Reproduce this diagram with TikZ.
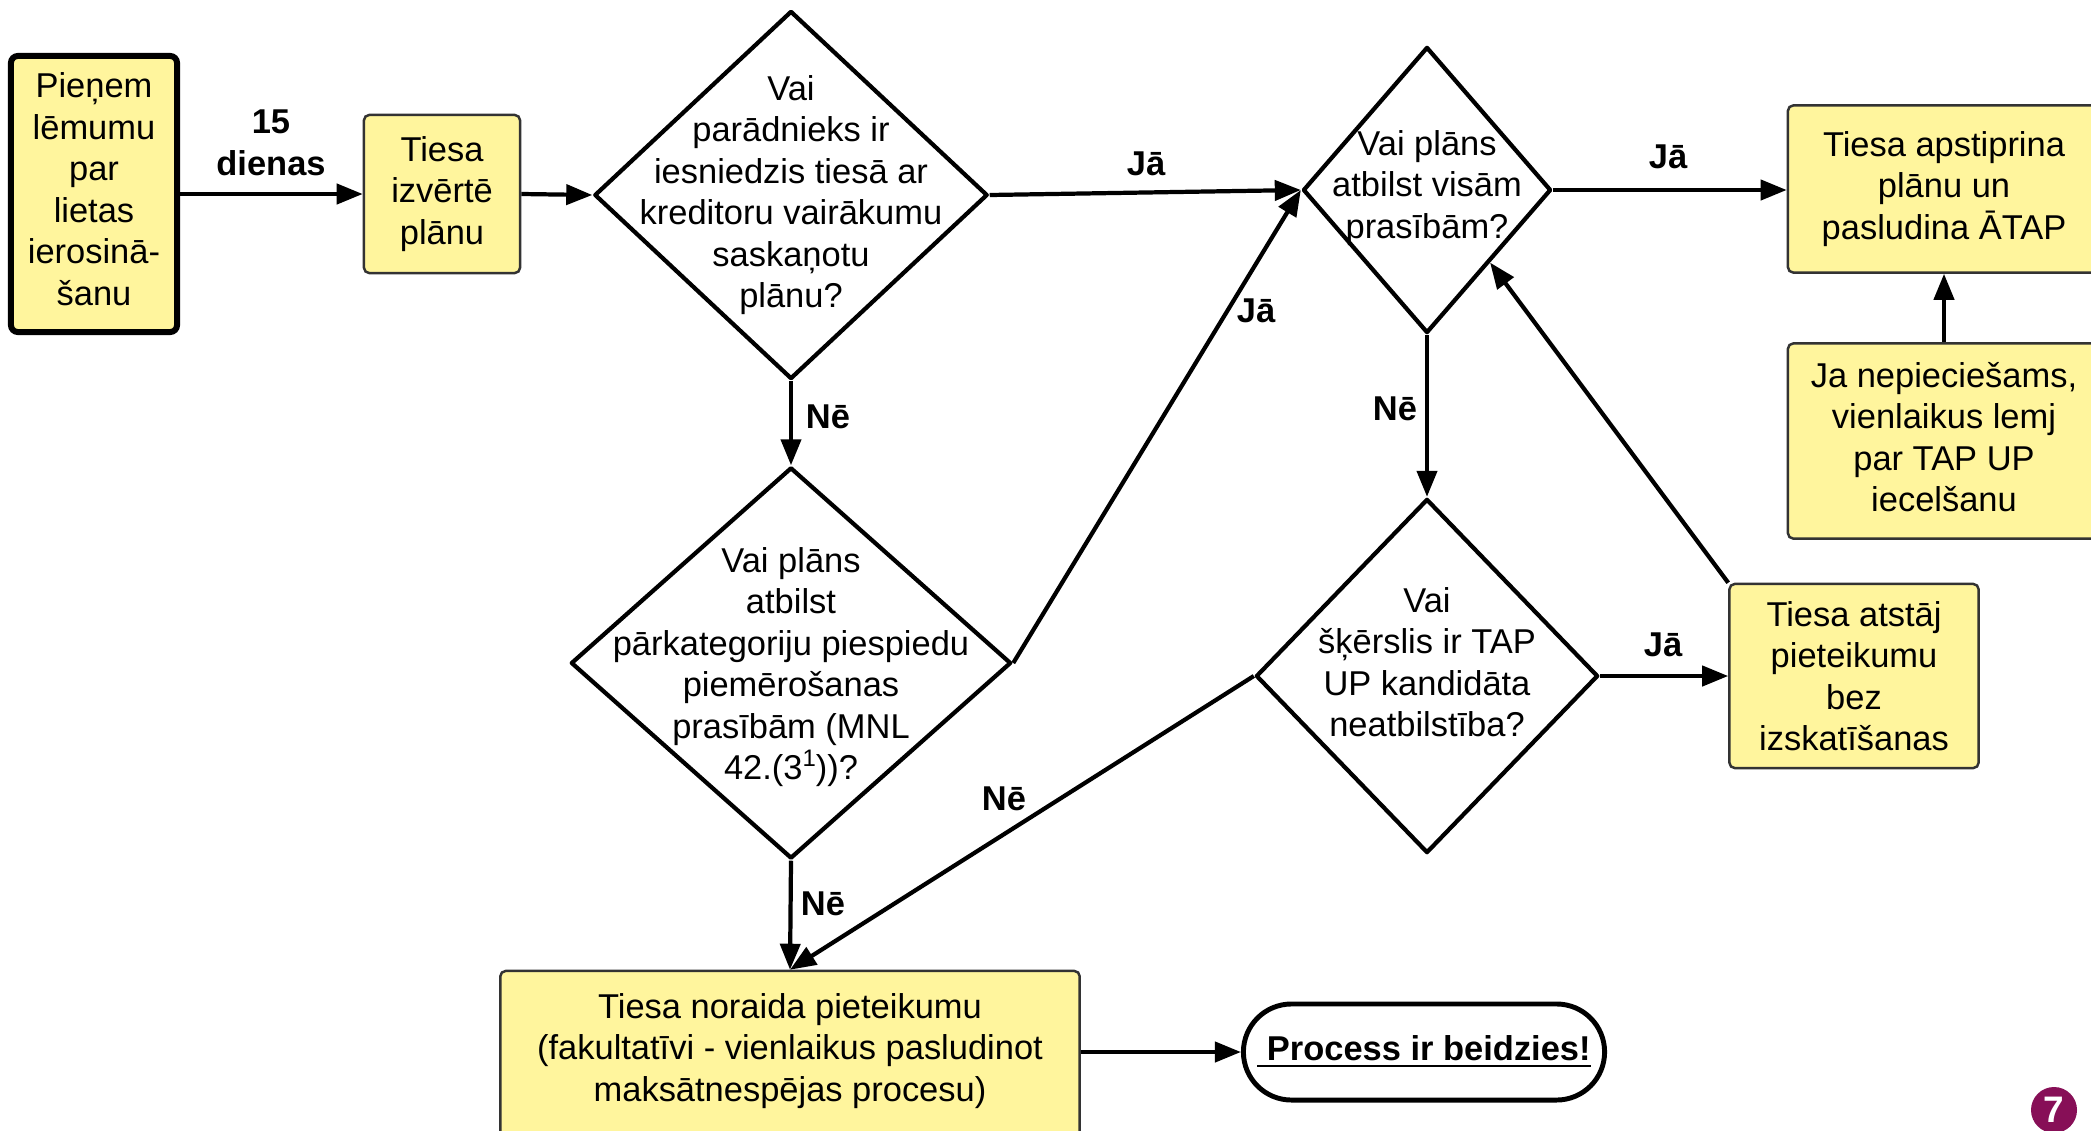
\documentclass[tikz,border=0pt]{standalone}
\usepackage{fontspec}
\setmainfont{Liberation Sans}
\usetikzlibrary{shapes.geometric,arrows.meta,calc}
\definecolor{boxyellow}{HTML}{FFF59D}
\definecolor{badgepurple}{HTML}{870F57}

\begin{document}
\begin{tikzpicture}[x=0.01cm, y=-0.01cm,
  font=\fontsize{9.8}{11.8}\selectfont,
  box/.style={draw=black!80, fill=boxyellow, line width=0.7pt, rounded corners=1.5pt, align=center},
  dec/.style={draw, shape=diamond, line width=1.2pt, line join=round, inner sep=0pt},
  txt/.style={align=center},
  lbl/.style={align=center, font=\fontsize{9.8}{11.8}\selectfont\bfseries},
  arr/.style={-{Triangle[length=2.6mm,width=2mm]}, line width=1.2pt}]
\useasboundingbox (0,0) rectangle (2091,1130);

\node (a) [box, draw=black, line width=1.7pt, rounded corners=2pt, minimum width=1.66cm, minimum height=2.76cm] at (94,194) {};
\node (at) [txt] at (94,189) {Pieņem\\lēmumu\\par\\lietas\\ierosinā-\\šanu};
\node (b) [box, minimum width=1.56cm, minimum height=1.58cm] at (442,194) {Tiesa\\izvērtē\\plānu};

\node (c) [dec, minimum width=3.93cm, minimum height=3.68cm] at (791,195) {};
\node (ct) [txt] at (791,195) {Vai\\parādnieks ir\\iesniedzis tiesā ar\\kreditoru vairākumu\\saskaņotu\\plānu?};
\node (d) [dec, minimum width=2.48cm, minimum height=2.86cm] at (1427,190) {};
\node (dt) [txt] at (1427,188) {Vai plāns\\atbilst visām\\prasībām?};
\node (g) [dec, minimum width=3.42cm, minimum height=3.54cm] at (1427,676) {};
\node (gt) [txt] at (1427,662) {Vai\\šķērslis ir TAP\\UP kandidāta\\neatbilstība?};
\node (i) [dec, minimum width=4.40cm, minimum height=3.91cm] at (791,663) {};
\node (it) [txt] at (791,667) {Vai plāns\\atbilst\\pārkategoriju piespiedu\\piemērošanas\\prasībām (MNL\\42.(3\raisebox{0.75ex}{\fontsize{6.8}{7}\selectfont 1}))?};

\node (e) [box, minimum width=3.12cm, minimum height=1.67cm] at (1944,189) {Tiesa apstiprina\\plānu un\\pasludina ĀTAP};
\node (f) [box, minimum width=3.12cm, minimum height=1.95cm] at (1944,441) {};
\node (ft) [txt] at (1944,437) {Ja nepieciešams,\\vienlaikus lemj\\par TAP UP\\iecelšanu};
\node (h) [box, minimum width=2.49cm, minimum height=1.84cm] at (1854,676) {Tiesa atstāj\\pieteikumu\\bez\\izskatīšanas};
\node (j) [box, minimum width=5.79cm, minimum height=1.8cm] at (790,1061) {};
\node (jt) [txt] at (790,1051) {Tiesa noraida pieteikumu\\(fakultatīvi - vienlaikus pasludinot\\maksātnespējas procesu)};
\node (k) [draw, fill=white, line width=1.4pt, rounded corners=0.48cm, minimum width=3.61cm, minimum height=0.96cm] at (1424,1052) {\underline{\textbf{\ Process ir beidzies!}}};

\draw [arr](a.east) -- (b.west);
\draw [arr](b.east) -- (c.west);
\draw [arr](c.east) -- (d.west);
\draw [arr](d.east) -- (d.east -| e.west);
\draw [arr](f.north) -- (e.south);
\draw [arr](d.south) -- (g.north);
\draw [arr](g.east) -- (h.west);
\draw [arr](h.north west) -- ($(d.east)!0.5!(d.south)$);
\draw [arr](c.south) -- (i.north);
\draw [arr](i.east) -- (d.west);
\draw [arr](i.south) -- (j.north);
\draw [arr](g.west) -- (j.north);
\draw [arr](k.west -| j.east) -- (k.west);

\node (l1) [lbl] at (271,143) {15\\dienas};
\node (l2) [lbl] at (1146,164) {Jā};
\node (l3) [lbl] at (1668,157) {Jā};
\node (l4) [lbl] at (1395,409) {Nē};
\node (l5) [lbl] at (1663,645) {Jā};
\node (l6) [lbl] at (828,417) {Nē};
\node (l7) [lbl] at (1256,311) {Jā};
\node (l8) [lbl] at (823,904) {Nē};
\node (l9) [lbl] at (1004,799) {Nē};

\node (n) [circle, fill=badgepurple, text=white, inner sep=0pt, minimum size=0.46cm, font=\fontsize{10.5}{11}\selectfont\bfseries] at (2054,1110) {7};
\end{tikzpicture}
\end{document}
